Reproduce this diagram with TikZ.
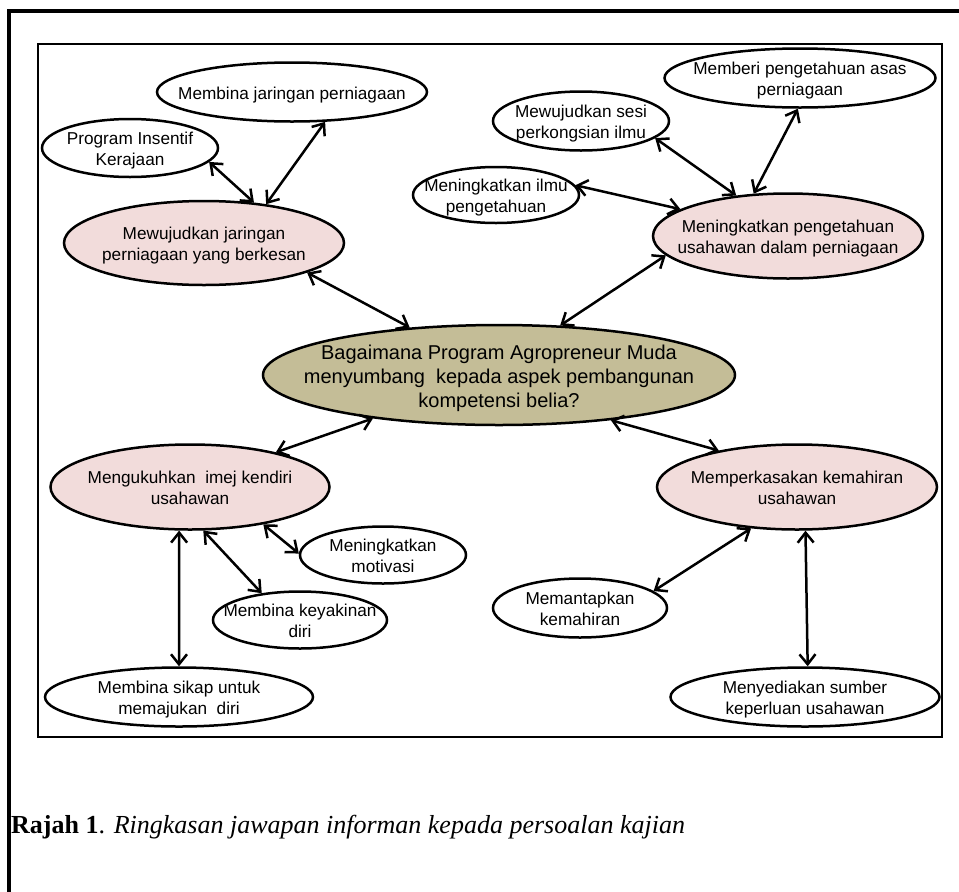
\documentclass[tikz,border=0pt]{standalone}
\usepackage{fontspec}
\setmainfont{Liberation Sans}
\newfontfamily\capfont{Liberation Serif}
\usetikzlibrary{shapes.geometric,arrows.meta}

\definecolor{rosefill}{HTML}{F2DCDB}
\definecolor{khakifill}{HTML}{C4BD97}

% text of an ellipse, kept out of the ellipse size
\newcommand{\btext}[1]{\makebox[0pt]{\smash{\raisebox{-0.42em}{%
  \begin{tabular}{@{}c@{}}#1\end{tabular}}}}}

\begin{document}
\begin{tikzpicture}
    [x=1pt,y=-1pt,
     bub/.style 2 args={ellipse,draw,line width=2.5pt,inner sep=0pt,
       minimum width=#1,minimum height=#2,
       font=\fontsize{17.2}{20.7}\selectfont},
     main/.style={fill=rosefill},
     link/.style={<->,line width=2.5pt},
     >={Straight Barb[length=10pt,width=16pt]}]

    \useasboundingbox (0,0) rectangle (959,892);

    % frames:
    \draw [line width=4pt] (9,892) |- (959,11);
    \draw [line width=2.5pt] (38,44) rectangle (942,737);

    % question:
    \node (soalan) at (499,375) [bub={472}{100},fill=khakifill,
      font=\fontsize{20}{24}\selectfont]
      {\btext{Bagaimana Program Agropreneur Muda\\
        menyumbang\ \ kepada aspek pembangunan\\ kompetensi belia?}};

    % upper left:
    \node (mjp) at (204,243) [bub={280}{84},main]
      {\btext{Mewujudkan jaringan\\ perniagaan yang berkesan}};
    \node (mjn) at (292,92) [bub={270}{59}] {\btext{Membina jaringan perniagaan}};
    \node (pik) at (130,148) [bub={176}{58}] {\btext{Program Insentif\\ Kerajaan}};

    % upper right:
    \node (mpu) at (788,236) [bub={270}{85},main]
      {\btext{Meningkatkan pengetahuan\\ usahawan dalam perniagaan}};
    \node (mpa) at (800,78) [bub={271}{59}] {\btext{Memberi pengetahuan asas\\ perniagaan}};
    \node (msp) at (581,121) [bub={176}{59}] {\btext{Mewujudkan sesi\\ perkongsian ilmu}};
    \node (mip) at (496,195) [bub={166}{56}] {\btext{Meningkatkan ilmu\\ pengetahuan}};

    % lower left:
    \node (mik) at (190,487) [bub={279}{85},main]
      {\btext{Mengukuhkan\ \ imej kendiri\\ usahawan}};
    \node (mmo) at (383,555) [bub={166}{57}] {\btext{Meningkatkan\\ motivasi}};
    \node (mkd) at (300,620) [bub={174}{57}] {\btext{Membina keyakinan\\ diri}};
    \node (msd) at (179,697) [bub={268}{59}] {\btext{Membina sikap untuk\\ memajukan\ \ diri}};

    % lower right:
    \node (mku) at (797,487) [bub={280}{85},main]
      {\btext{Memperkasakan kemahiran\\ usahawan}};
    \node (mmk) at (580,608) [bub={174}{59}] {\btext{Memantapkan\\ kemahiran}};
    \node (msk) at (805,697) [bub={269}{59}] {\btext{Menyediakan sumber\\ keperluan usahawan}};

    % caption:
    \node (caption) at (11,833) [anchor=base west,inner sep=0pt,
      font=\capfont\fontsize{26}{30}\selectfont]
      {\textbf{Rajah 1}. \textit{Ringkasan jawapan informan kepada persoalan kajian}};

    % connect nodes:
    \draw [link] (pik.-10) -- (mjp.39);
    \draw [link] (mjn.-42) -- (mjp.32);
    \draw [link] (mjp.-16) -- (soalan.152);
    \draw [link] (soalan.39) -- (mpu.-171);
    \draw [link] (mip.7) -- (mpu.166);
    \draw [link] (msp.-13) -- (mpu.142);
    \draw [link] (mpa.-94) -- (mpu.129);
    \draw [link] (soalan.-161) -- (mik.22);
    \draw [link] (soalan.-22) -- (mku.155);
    \draw [link] (mik.-104) -- (msd.90);
    \draw [link] (mik.-73) -- (mkd.145);
    \draw [link] (mik.-27) -- (mmo.179);
    \draw [link] (mku.-138) -- (mmk.13);
    \draw [link] (mku.-79) -- (msk.85);

  \end{tikzpicture}
\end{document}
